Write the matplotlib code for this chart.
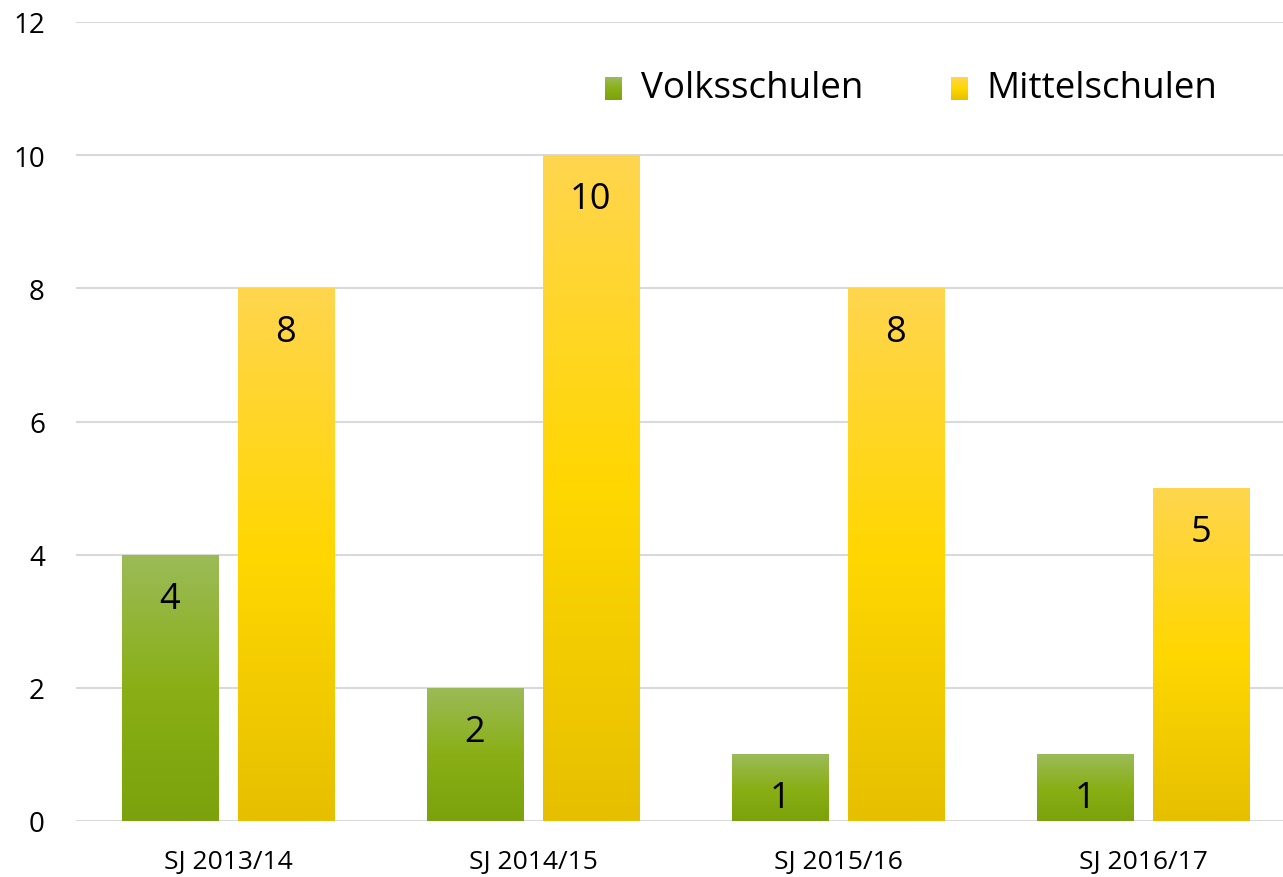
import matplotlib
matplotlib.use("Agg")
import matplotlib.pyplot as plt
import numpy as np
from matplotlib.colors import LinearSegmentedColormap

categories = ["SJ 2013/14", "SJ 2014/15", "SJ 2015/16", "SJ 2016/17"]
volksschulen = [4, 2, 1, 1]
mittelschulen = [8, 10, 8, 5]
series_names = ["Volksschulen", "Mittelschulen"]
y_ticks = [0, 2, 4, 6, 8, 10, 12]

plt.rcParams['font.family'] = ['Open Sans', 'DejaVu Sans']

green_cmap = LinearSegmentedColormap.from_list("g", ["#7BA20C", "#8AAF16", "#9BBB59"])
yellow_cmap = LinearSegmentedColormap.from_list("y", ["#E6C000", "#FFD700", "#FFD54F"])

fig = plt.figure(figsize=(12.83, 8.78), dpi=100)
ax = fig.add_axes([75.5/1283, 56/878, 1220/1283, (822-23)/878])

x = np.arange(len(categories))
w = 0.315
off = 0.19
grad = np.linspace(0, 1, 256).reshape(-1, 1)

def gradient_bars(xpos, vals, cmap):
    bars = ax.bar(xpos, vals, w, color="none", edgecolor="none", zorder=2)
    for b in bars:
        x0, y0 = b.get_x(), b.get_y()
        im = ax.imshow(grad, cmap=cmap, aspect="auto", origin="lower",
                       extent=[x0, x0 + b.get_width(), y0, y0 + b.get_height()],
                       zorder=2, interpolation="bilinear")
        im.set_clip_path(b)
    return bars

b1 = gradient_bars(x - off, volksschulen, green_cmap)
b2 = gradient_bars(x + off, mittelschulen, yellow_cmap)

for bars, vals in ((b1, volksschulen), (b2, mittelschulen)):
    for b, v in zip(bars, vals):
        ax.annotate(str(v), (b.get_x() + b.get_width() / 2, v), xytext=(0, -44),
                    textcoords="offset pixels", ha="center", va="center",
                    fontsize=26, color="black", zorder=3)

ax.set_xlim(-0.5, 3.5)
ax.set_ylim(0, 12)
ax.set_yticks(y_ticks)
ax.set_xticks(x)
ax.set_xticklabels(categories)
ax.tick_params(axis="y", length=0, labelsize=20, colors="black", pad=22)
ax.tick_params(axis="x", length=0, labelsize=19, colors="black", pad=20)
ax.grid(axis="y", color="#D9D9D9", linewidth=1.5, zorder=0)
ax.set_axisbelow(True)
for s in ax.spines.values():
    s.set_visible(False)

# legend
def legend_item(px, text_px, cmap, label):
    lax = fig.add_axes([px/1283, 1 - 101/878, 17/1283, 23/878])
    lax.imshow(grad, cmap=cmap, aspect="auto", origin="lower", interpolation="bilinear")
    lax.axis("off")
    fig.text(text_px/1283, 1 - 89/878, label, fontsize=26.5, va="center", ha="left")

legend_item(605, 641, green_cmap, series_names[0])
legend_item(951, 986, yellow_cmap, series_names[1])

fig.savefig("out.png", dpi=100)
